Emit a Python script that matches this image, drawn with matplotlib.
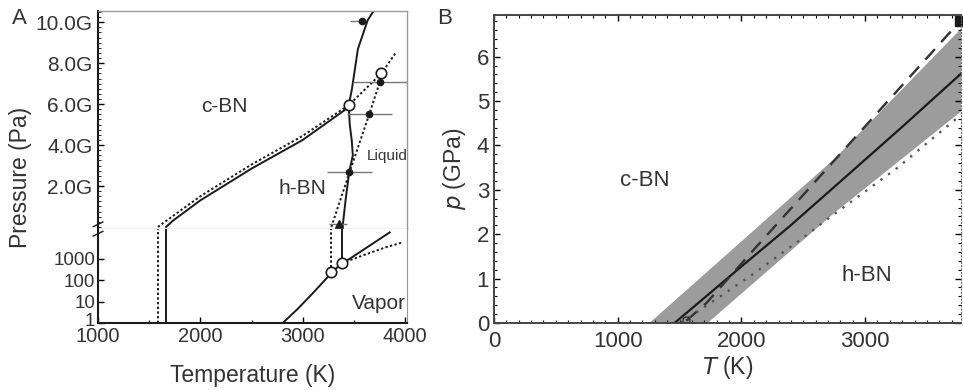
import numpy as np
import matplotlib
matplotlib.use('Agg')
from matplotlib import pyplot as plt
from matplotlib import transforms as mtrans
from matplotlib.ticker import MultipleLocator, FixedLocator, NullLocator

plt.rcParams['font.family'] = ['Liberation Sans', 'DejaVu Sans']
TXT = '#333333'
LINE = '#1a1a1a'

# ---- panel A, upper part (GPa) ----
cbn_solid_T = [1665, 1730, 2000, 2500, 3000, 3450]
cbn_solid_p = [0.0, 0.3, 1.3, 2.85, 4.25, 5.85]
cbn_dot_T = [1585, 1700, 2000, 2500, 3000, 3450, 3770, 3915]
cbn_dot_p = [0.0, 0.42, 1.5, 3.05, 4.45, 5.95, 7.5, 8.55]
melt_solid_T = [3390, 3420, 3455, 3490, 3480, 3460, 3450, 3480, 3540, 3635, 3700]
melt_solid_p = [0.0, 1.35, 2.7, 3.5, 4.2, 5.0, 5.95, 6.7, 8.7, 10.1, 10.6]
melt_dot_T = [3280, 3460, 3650, 3755, 3770]
melt_dot_p = [0.0, 2.7, 5.5, 7.1, 7.5]
circ_up_T = [3450, 3770]
circ_up_p = [5.95, 7.5]
exp_T = [3575, 3755, 3650, 3455]
exp_p = [10.05, 7.1, 5.5, 2.7]
exp_err_lo = [115, 260, 220, 220]
exp_err_hi = [20, 300, 220, 220]
tri_T = [3350]
tri_p = [0.15]

# ---- panel A, lower part (Pa) ----
vap_solid_T = [2805, 2950, 3100, 3280, 3380, 3460, 3620, 3850]
vap_solid_p = [1.0, 4.5, 25, 215, 620, 1000, 3200, 17000]
vap_dot_T = [3380, 3600, 3800, 3980]
vap_dot_p = [620, 1500, 3300, 5900]
circ_lo_T = [3280, 3380]
circ_lo_p = [235, 620]
vert_solid_T = [1663, 3380]
vert_dot_T = [1585, 3280]

# ---- panel B (GPa) ----
b_solid_T = [1460, 1990, 2390, 2740, 3300, 3800]
b_solid_p = [0.0, 1.25, 2.18, 3.04, 4.42, 5.68]
b_up_T = [1257, 2760, 3800, 3900]
b_up_p = [0.0, 3.72, 6.7, 7.0]
b_lo_T = [1727, 2760, 3800, 3900]
b_lo_p = [0.0, 2.5, 4.82, 5.05]
b_dash_T = [1555, 1717, 2122, 2650, 3745, 3790]
b_dash_p = [0.05, 0.45, 1.72, 3.35, 6.73, 6.86]
b_dot_T = [1510, 1663, 2068, 2474, 2690, 3258, 3800]
b_dot_p = [0.0, 0.29, 1.05, 1.87, 2.33, 3.49, 4.75]

fig = plt.figure(figsize=(9.63, 3.9), dpi=100)
axu = fig.add_axes([0.1018, 0.4128, 0.3209, 0.559])
axl = fig.add_axes([0.1018, 0.1718, 0.3209, 0.241])
axb = fig.add_axes([0.513, 0.1718, 0.485, 0.7897])

DOT = (0, (1.2, 1.2))

# upper A
axu.plot(cbn_dot_T, cbn_dot_p, ls=DOT, color=LINE, lw=1.4)
axu.plot(cbn_solid_T, cbn_solid_p, color=LINE, lw=1.4)
axu.plot(melt_solid_T, melt_solid_p, color=LINE, lw=1.4)
axu.plot(melt_dot_T, melt_dot_p, ls=DOT, color=LINE, lw=1.4)
axu.errorbar(exp_T, exp_p, xerr=[exp_err_lo, exp_err_hi], fmt='o', color=LINE,
             ms=4.5, ecolor='#777777', elinewidth=1.0, capsize=0)
axu.errorbar(tri_T, tri_p, xerr=[[90], [85]], fmt='^', color=LINE, ms=6,
             ecolor='#777777', elinewidth=1.0, capsize=0, clip_on=False)
axu.plot(circ_up_T, circ_up_p, 'o', mfc='white', mec=LINE, ms=7.5, mew=1.2)
axu.set_xlim(1000, 4020)
axu.set_ylim(-0.1, 10.55)
axu.yaxis.set_major_locator(FixedLocator([2, 4, 6, 8, 10]))
axu.yaxis.set_minor_locator(MultipleLocator(0.25))
axu.set_yticklabels(['2.0G', '4.0G', '6.0G', '8.0G', '10.0G'])
axu.xaxis.set_major_locator(NullLocator())
axu.tick_params(axis='y', which='both', direction='in', labelsize=15,
                labelcolor=TXT, length=4, width=1, pad=4)
axu.tick_params(axis='y', which='minor', length=2, width=0.6)
for s in ['top', 'right']:
    axu.spines[s].set_color('#999999')
    axu.spines[s].set_linewidth(1.0)
axu.spines['bottom'].set_color('#bbbbbb')
axu.spines['bottom'].set_linewidth(1.0)
axu.spines['left'].set_color(LINE)
axu.spines['left'].set_linewidth(1.5)
axu.text(2230, 5.9, 'c-BN', fontsize=15, color=TXT, ha='center', va='center')
axu.text(3000, 1.9, 'h-BN', fontsize=15, color=TXT, ha='center', va='center')
axu.text(3830, 3.45, 'Liquid', fontsize=11, color=TXT, ha='center', va='center')

# lower A
axl.set_yscale('log')
axl.plot(vap_solid_T, vap_solid_p, color=LINE, lw=1.4)
axl.plot(vap_dot_T, vap_dot_p, ls=DOT, color=LINE, lw=1.4)
axl.plot([vert_solid_T[0]] * 2, [1, 3e4], color=LINE, lw=1.4)
axl.plot([vert_solid_T[1]] * 2, [circ_lo_p[1], 3e4], color=LINE, lw=1.4)
axl.plot([vert_dot_T[0]] * 2, [1, 3e4], ls=DOT, color=LINE, lw=1.4)
axl.plot([vert_dot_T[1]] * 2, [circ_lo_p[0], 3e4], ls=DOT, color=LINE, lw=1.4)
axl.plot(circ_lo_T, circ_lo_p, 'o', mfc='white', mec=LINE, ms=7.5, mew=1.2, zorder=5)
axl.set_xlim(1000, 4020)
axl.set_ylim(1, 10 ** 4.39)
axl.yaxis.set_major_locator(FixedLocator([1, 10, 100, 1000]))
axl.yaxis.set_minor_locator(NullLocator())
axl.set_yticklabels(['1', '10', '100', '1000'])
axl.xaxis.set_major_locator(MultipleLocator(1000))
axl.xaxis.set_minor_locator(MultipleLocator(500))
axl.tick_params(axis='both', which='both', direction='in', labelsize=14.5,
                labelcolor=TXT, length=4, width=1, pad=2)
axl.tick_params(axis='y', labelsize=13.5)
axl.tick_params(axis='x', pad=3)
axl.tick_params(axis='x', which='minor', length=2.5)
axl.spines['top'].set_visible(False)
axl.spines['right'].set_color('#999999')
axl.spines['left'].set_color(LINE)
axl.spines['left'].set_linewidth(1.5)
axl.spines['bottom'].set_color(LINE)
axl.spines['bottom'].set_linewidth(1.5)
axl.text(3740, 8, 'Vapor', fontsize=15, color=TXT, ha='center', va='center')
axl.set_xlabel('Temperature (K)', fontsize=16.5, color=TXT, labelpad=13)

# lift the "1" label a little off the "1000" below it
fig.canvas.draw()
lab1 = axl.get_yticklabels()[0]
lab1.set_transform(lab1.get_transform() + mtrans.ScaledTranslation(0, 2.5 / 72, fig.dpi_scale_trans))

# break marks on the left spine
for dy in (-0.012, 0.012):
    fig.add_artist(plt.Line2D([0.0968, 0.1068], [0.4068 + dy, 0.4188 + dy],
                              color=LINE, lw=1.0))

fig.text(0.021, 0.546, 'Pressure (Pa)', rotation=90, fontsize=16.5, color=TXT,
         ha='center', va='center')
fig.text(0.012, 0.952, 'A', fontsize=16, color=TXT, ha='left', va='center')

# panel B
axb.fill(b_up_T + b_lo_T[::-1], b_up_p + b_lo_p[::-1], color='#9c9c9c', lw=0)
axb.plot(b_solid_T, b_solid_p, color=LINE, lw=1.6)
axb.plot(b_dash_T, b_dash_p, color='#333333', lw=1.7, ls=(0, (6, 4)))
axb.plot(b_dot_T, b_dot_p, color='#555555', lw=1.7, ls=(0, (1, 3)))
axb.plot([3770], [6.8], 's', color=LINE, ms=7, clip_on=False)
axb.plot([1555], [0.06], 'o', mfc='none', mec='#333333', ms=5, mew=1.0)
axb.set_xlim(0, 3776)
axb.set_ylim(0, 6.94)
axb.xaxis.set_major_locator(MultipleLocator(1000))
axb.xaxis.set_minor_locator(MultipleLocator(100))
axb.yaxis.set_major_locator(MultipleLocator(1))
axb.yaxis.set_minor_locator(MultipleLocator(0.2))
axb.tick_params(axis='both', which='both', direction='in', top=True, right=True,
                labelsize=16, labelcolor=TXT, length=4, width=1)
axb.tick_params(which='minor', length=2.5, width=0.8)
axb.tick_params(axis='x', pad=6)
for s in ['top', 'left', 'bottom']:
    axb.spines[s].set_color('#444444')
    axb.spines[s].set_linewidth(1.4)
axb.spines['right'].set_linestyle((0, (1, 2)))
axb.spines['right'].set_color('#666666')
axb.set_xlabel(r'$\it{T}$ (K)', fontsize=16.5, color=TXT, labelpad=1)
axb.set_ylabel(r'$\it{p}$ (GPa)', fontsize=16.5, color=TXT, labelpad=6)
axb.text(1217, 3.2, 'c-BN', fontsize=16, color=TXT, ha='center', va='center')
axb.text(3017, 1.08, 'h-BN', fontsize=16, color=TXT, ha='center', va='center')
fig.text(0.454, 0.952, 'B', fontsize=16, color=TXT, ha='left', va='center')

fig.savefig('out.png', dpi=100)
